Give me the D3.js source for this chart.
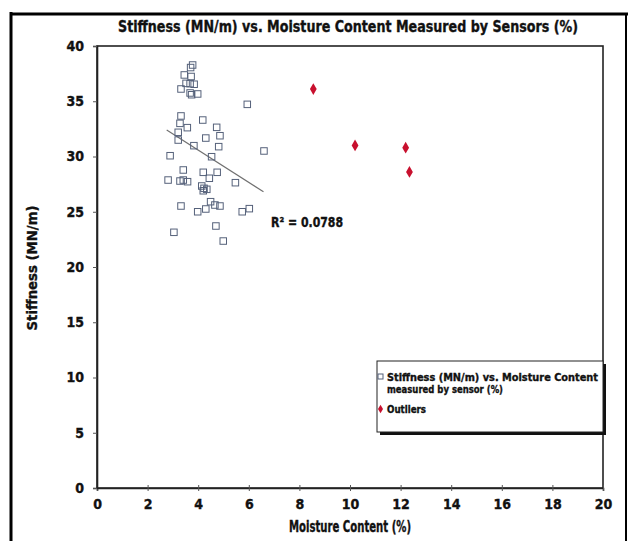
<!DOCTYPE html>
<html>
<head>
<meta charset="utf-8">
<script src="https://cdn.jsdelivr.net/npm/d3@7"></script>
<style>
  html, body { margin: 0; padding: 0; background: #fff; }
  svg { display: block; }
  text { font-family: "Liberation Sans Narrow", "DejaVu Sans Condensed", "Roboto Condensed", "Liberation Sans", sans-serif; font-weight: bold; fill: #111; stroke: #111; stroke-width: 0.35px; }
</style>
</head>
<body>
<svg id="chart" width="631" height="541"></svg>
<script>
// Sensor readings: moisture content (%) and stiffness (MN/m)
const moisture = [3.78, 3.70, 3.45, 3.72, 3.52, 3.68, 3.84, 3.32, 3.68, 3.74,
  3.98, 5.94, 3.32, 4.18, 3.28, 3.57, 4.73, 3.21, 4.86, 4.30,
  3.21, 3.83, 4.81, 6.60, 2.89, 4.53, 3.41, 4.20, 4.75, 2.81,
  3.28, 3.41, 3.58, 4.44, 5.47, 4.14, 4.23, 4.34, 4.20, 4.49,
  4.66, 4.86, 3.32, 4.30, 3.98, 5.74, 6.02, 3.04, 4.70, 4.99];
const stiffness = [38.28, 38.05, 37.38, 37.24, 36.62, 36.59, 36.54, 36.11, 35.75, 35.59,
  35.66, 34.72, 33.67, 33.30, 33.00, 32.61, 32.64, 32.19, 31.88, 31.67,
  31.49, 30.98, 30.89, 30.50, 30.07, 29.98, 28.78, 28.57, 28.57, 27.87,
  27.78, 27.87, 27.72, 28.03, 27.63, 27.33, 27.12, 27.03, 26.90, 25.91,
  25.61, 25.52, 25.52, 25.25, 25.00, 25.00, 25.28, 23.14, 23.71, 22.35];

// Readings excluded from the fit
const outlierMoisture = [8.55, 10.2, 12.2, 12.35];
const outlierStiffness = [36.1, 31.0, 30.8, 28.6];

// Linear trend line over the sensor readings
const trendSlope = -1.463;
const trendIntercept = 36.43;
const trendRange = [2.755, 6.58];
const rSquaredLabel = "R² = 0.0788";

const xTicks = [0, 2, 4, 6, 8, 10, 12, 14, 16, 18, 20];
const yTicks = [0, 5, 10, 15, 20, 25, 30, 35, 40];

const titleText = "Stiffness (MN/m) vs. Moisture Content Measured by Sensors (%)";
const xTitle = "Moisture Content (%)";
const yTitle = "Stiffness (MN/m)";
const legendLabels = [["Stiffness (MN/m) vs. Moisture Content", "measured by sensor (%)"], ["Outliers"]];

const svg = d3.select("#chart");
const plot = { left: 97, right: 603, top: 46, bottom: 488 };

const x = d3.scaleLinear().domain([0, 20]).range([plot.left, plot.right]);
const y = d3.scaleLinear().domain([0, 40]).range([plot.bottom, plot.top]);

// Page frame
svg.append("line").attr("x1", 11).attr("x2", 11).attr("y1", 12).attr("y2", 541)
  .attr("stroke", "#000").attr("stroke-width", 3);
svg.append("line").attr("x1", 10).attr("x2", 628).attr("y1", 14).attr("y2", 14)
  .attr("stroke", "#000").attr("stroke-width", 3);
svg.append("line").attr("x1", 626).attr("x2", 626).attr("y1", 13).attr("y2", 541)
  .attr("stroke", "#000").attr("stroke-width", 2);

// Title
svg.append("text")
  .attr("x", 348).attr("y", 32)
  .attr("text-anchor", "middle")
  .attr("font-size", 15.5)
  .attr("textLength", 460).attr("lengthAdjust", "spacingAndGlyphs")
  .text(titleText);

// Plot border
svg.append("rect")
  .attr("x", plot.left).attr("y", plot.top)
  .attr("width", plot.right - plot.left).attr("height", plot.bottom - plot.top)
  .attr("fill", "none").attr("stroke", "#222").attr("stroke-width", 1.6);

// Axes
const xAxis = svg.append("g")
  .attr("transform", `translate(0,${plot.bottom})`)
  .call(d3.axisBottom(x).tickValues(xTicks).tickSize(3).tickPadding(8).tickFormat(d3.format("d")));
xAxis.selectAll(".tick line").attr("y1", -3).attr("stroke", "#555");
const yAxis = svg.append("g")
  .attr("transform", `translate(${plot.left},0)`)
  .call(d3.axisLeft(y).tickValues(yTicks).tickSize(4).tickPadding(9).tickFormat(d3.format("d")));
yAxis.selectAll(".tick line").attr("stroke", "#555");
svg.selectAll(".domain").attr("stroke", "#222").attr("stroke-width", 1.6);
svg.selectAll(".tick text")
  .attr("font-size", 14)
  .attr("font-family", "\"Liberation Sans Narrow\", \"DejaVu Sans Condensed\", sans-serif")
  .attr("font-weight", "bold")
  .attr("fill", "#111")
  .attr("stroke", "#111").attr("stroke-width", 0.35);

// Axis titles
svg.append("text")
  .attr("x", 350).attr("y", 532)
  .attr("text-anchor", "middle").attr("font-size", 15.5)
  .attr("textLength", 122).attr("lengthAdjust", "spacingAndGlyphs")
  .text(xTitle);
svg.append("text")
  .attr("transform", "translate(37,268) rotate(-90)")
  .attr("text-anchor", "middle").attr("font-size", 14)
  .attr("textLength", 125).attr("lengthAdjust", "spacingAndGlyphs")
  .text(yTitle);

// Trend line
svg.append("line")
  .attr("x1", x(trendRange[0])).attr("y1", y(trendSlope * trendRange[0] + trendIntercept))
  .attr("x2", x(trendRange[1])).attr("y2", y(trendSlope * trendRange[1] + trendIntercept))
  .attr("stroke", "#707070").attr("stroke-width", 1.2);

svg.append("text")
  .attr("x", 271).attr("y", 227)
  .attr("font-size", 13.5)
  .attr("textLength", 72).attr("lengthAdjust", "spacingAndGlyphs")
  .text(rSquaredLabel);

// Sensor readings as open squares
const sq = 6.5;
svg.append("g").selectAll("rect")
  .data(d3.range(moisture.length))
  .join("rect")
  .attr("x", i => x(moisture[i]) - sq / 2)
  .attr("y", i => y(stiffness[i]) - sq / 2)
  .attr("width", sq).attr("height", sq)
  .attr("fill", "none").attr("stroke", "#55617a").attr("stroke-width", 1);

// Outliers as red diamonds
const diamond = d3.symbol().type(d3.symbolDiamond).size(40);
svg.append("g").selectAll("path")
  .data(d3.range(outlierMoisture.length))
  .join("path")
  .attr("d", diamond)
  .attr("transform", i => `translate(${x(outlierMoisture[i])},${y(outlierStiffness[i])})`)
  .attr("fill", "#c8102e");

// Legend with drop shadow
const lg = svg.append("g");
lg.append("rect").attr("x", 380).attr("y", 364).attr("width", 226).attr("height", 71).attr("fill", "#111");
lg.append("rect").attr("x", 377).attr("y", 361).attr("width", 226).attr("height", 71)
  .attr("fill", "#fff").attr("stroke", "#222").attr("stroke-width", 1);
lg.append("rect").attr("x", 378).attr("y", 374).attr("width", 5).attr("height", 5)
  .attr("fill", "none").attr("stroke", "#55617a").attr("stroke-width", 1);
lg.append("text").attr("x", 387).attr("y", 380.5).attr("font-size", 11)
  .attr("textLength", 211).attr("lengthAdjust", "spacingAndGlyphs")
  .text(legendLabels[0][0]);
lg.append("text").attr("x", 387).attr("y", 392.5).attr("font-size", 11)
  .attr("textLength", 116).attr("lengthAdjust", "spacingAndGlyphs")
  .text(legendLabels[0][1]);
lg.append("path").attr("d", d3.symbol().type(d3.symbolDiamond).size(22))
  .attr("transform", "translate(380.5,409)").attr("fill", "#c8102e");
lg.append("text").attr("x", 387).attr("y", 413).attr("font-size", 11)
  .attr("textLength", 39).attr("lengthAdjust", "spacingAndGlyphs")
  .text(legendLabels[1][0]);
</script>
</body>
</html>
